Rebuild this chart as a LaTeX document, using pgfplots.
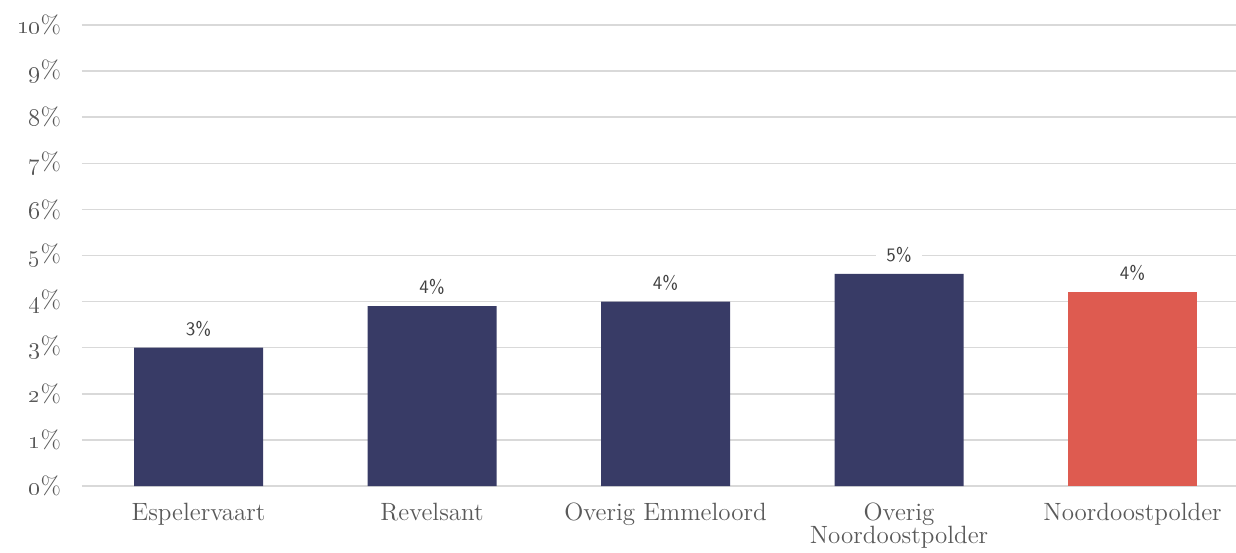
\documentclass[border=0pt]{standalone}
\usepackage{pgfplots}
\pgfplotsset{compat=1.18}
\definecolor{navy}{HTML}{383B66}
\definecolor{coral}{HTML}{DE5B50}
\definecolor{gridgray}{HTML}{D9D9D9}
\definecolor{txtgray}{HTML}{595959}
\definecolor{lblgray}{HTML}{404040}
\begin{document}
\begin{tikzpicture}
\path[use as bounding box] (-41pt,-33pt) rectangle (577pt,243pt);
\begin{axis}[
  at={(0pt,0pt)}, anchor=south west,
  scale only axis,
  width=577pt, height=230.5pt,
  xmin=-0.499, xmax=4.443,
  ymin=0, ymax=10,
  axis line style={draw=none},
  major tick length=0pt,
  ymajorgrids,
  grid style={color=gridgray, line width=0.75pt},
  ytick={0,1,...,10},
  yticklabels={\oldstylenums{0}\%,\oldstylenums{1}\%,\oldstylenums{2}\%,\oldstylenums{3}\%,\oldstylenums{4}\%,\oldstylenums{5}\%,\oldstylenums{6}\%,\oldstylenums{7}\%,\oldstylenums{8}\%,\oldstylenums{9}\%,\oldstylenums{10}\%},
  yticklabel style={font=\fontsize{12.5}{14}\selectfont, text=txtgray, anchor=east, xshift=-7pt},
  xtick={0,1,2,3,4},
  xticklabels={Espelervaart, Revelsant, Overig Emmeloord, {Overig\\Noordoostpolder}, Noordoostpolder},
  xticklabel style={font=\fontsize{12.5}{11.5}\selectfont, text=txtgray, align=center, anchor=north, yshift=-5pt},
  ybar, bar width=64.5pt,
  nodes near coords={\pgfmathprintnumber[fixed,precision=0,assume math mode=true]{\pgfplotspointmeta}\%},
  nodes near coords style={font=\sffamily\fontsize{9.5}{11}\selectfont, text=lblgray, anchor=center, yshift=9.5pt, fill=white, inner xsep=5pt, inner ysep=1.5pt},
]
\addplot[fill=navy, draw=none, bar shift=0pt] coordinates {(0,3.0) (1,3.9) (2,4.0) (3,4.6)};
\addplot[fill=coral, draw=none, bar shift=0pt] coordinates {(4,4.2)};
\end{axis}
\end{tikzpicture}
\end{document}
